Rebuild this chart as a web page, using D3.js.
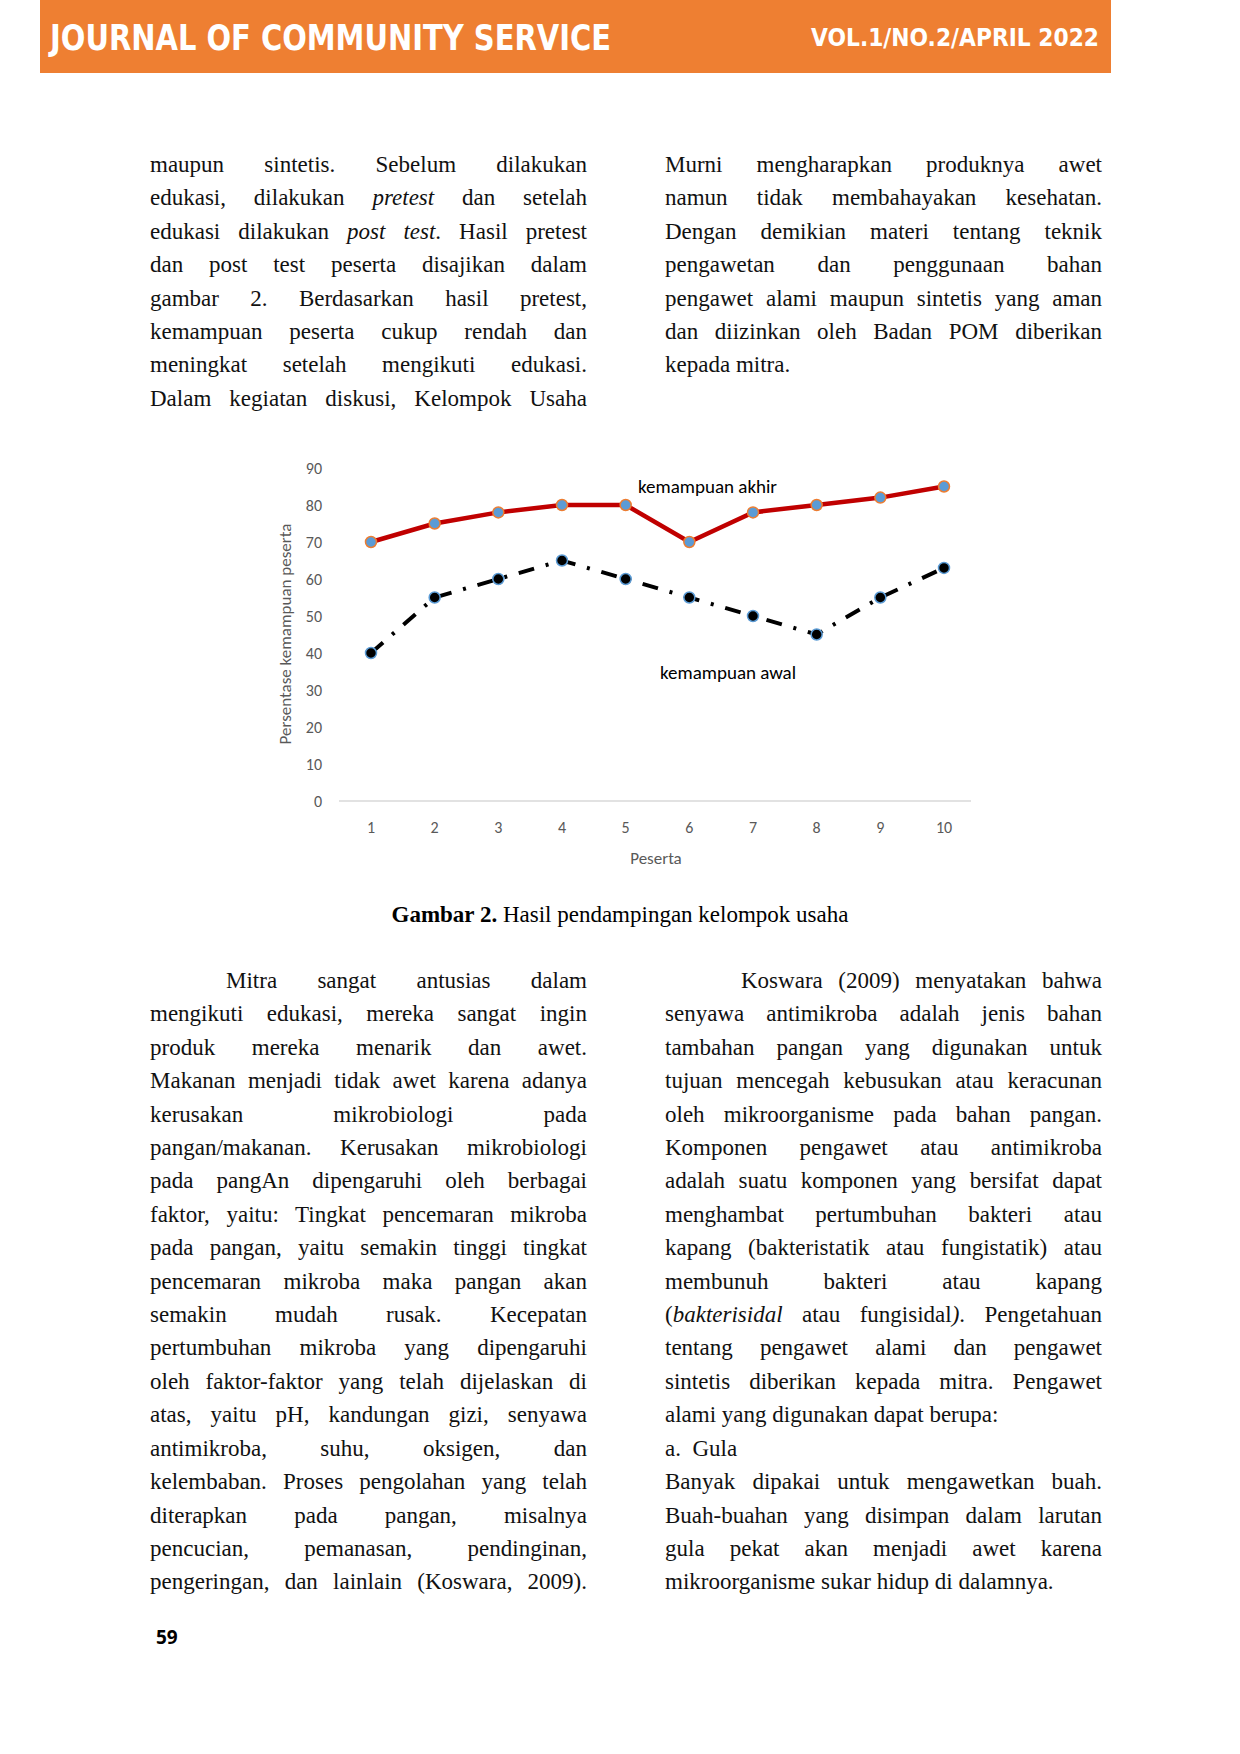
<!DOCTYPE html>
<html><head><meta charset="utf-8">
<script src="https://cdnjs.cloudflare.com/ajax/libs/d3/7.8.5/d3.min.js"></script>
<style>
body{margin:0;width:1240px;height:1754px;position:relative;background:#fff;font-family:"Liberation Serif","Times New Roman",serif;}
.col{position:absolute;width:437px;font-size:23px;line-height:33.4px;color:#111;}
.col div{text-align:justify;text-align-last:justify;white-space:nowrap;}
.col div.l{text-align-last:left;}
.col div.ind{padding-left:76px;}
svg{position:absolute;left:0;top:0;}
</style></head><body>
<div style="position:absolute;left:40px;top:0;width:1071px;height:73px;background:#ee7f32"></div>
<div class="col" id="c1" style="left:150px;top:148px"></div>
<div class="col" id="c2" style="left:665px;top:148px"></div>
<div class="col" id="c3" style="left:150px;top:964px"></div>
<div class="col" id="c4" style="left:665px;top:964px"></div>
<div style="position:absolute;left:0;width:1240px;top:902px;text-align:center;font-size:23px"><b>Gambar 2.</b> Hasil pendampingan kelompok usaha</div>
<div style="position:absolute;left:156px;top:1624px;font:bold 19px 'Open Sans',sans-serif">59</div>
<svg id="ch" width="1240" height="1754"></svg>
<script>
const peserta=[1,2,3,4,5,6,7,8,9,10];
const akhir=[70,75,78,80,80,70,78,80,82,85];
const awal=[40,55,60,65,60,55,50,45,55,63];
const yTicks=[0,10,20,30,40,50,60,70,80,90];

const t1=["maupun sintetis. Sebelum dilakukan","edukasi, dilakukan <i>pretest</i> dan setelah","edukasi dilakukan <i>post test</i>. Hasil pretest","dan post test peserta disajikan dalam","gambar 2. Berdasarkan hasil pretest,","kemampuan peserta cukup rendah dan","meningkat setelah mengikuti edukasi.","Dalam kegiatan diskusi, Kelompok Usaha"];
const t2=["Murni mengharapkan produknya awet","namun tidak membahayakan kesehatan.","Dengan demikian materi tentang teknik","pengawetan dan penggunaan bahan","pengawet alami maupun sintetis yang aman","dan diizinkan oleh Badan POM diberikan","!kepada mitra."];
const t3=[">Mitra sangat antusias dalam","mengikuti edukasi, mereka sangat ingin","produk mereka menarik dan awet.","Makanan menjadi tidak awet karena adanya","kerusakan mikrobiologi pada","pangan/makanan. Kerusakan mikrobiologi","pada pangAn dipengaruhi oleh berbagai","faktor, yaitu: Tingkat pencemaran mikroba","pada pangan, yaitu semakin tinggi tingkat","pencemaran mikroba maka pangan akan","semakin mudah rusak. Kecepatan","pertumbuhan mikroba yang dipengaruhi","oleh faktor-faktor yang telah dijelaskan di","atas, yaitu pH, kandungan gizi, senyawa","antimikroba, suhu, oksigen, dan","kelembaban. Proses pengolahan yang telah","diterapkan pada pangan, misalnya","pencucian, pemanasan, pendinginan,","pengeringan, dan lainlain (Koswara, 2009)."];
const t4=[">Koswara (2009) menyatakan bahwa","senyawa antimikroba adalah jenis bahan","tambahan pangan yang digunakan untuk","tujuan mencegah kebusukan atau keracunan","oleh mikroorganisme pada bahan pangan.","Komponen pengawet atau antimikroba","adalah suatu komponen yang bersifat dapat","menghambat pertumbuhan bakteri atau","kapang (bakteristatik atau fungistatik) atau","membunuh bakteri atau kapang","(<i>bakterisidal</i> atau fungisidal<i>)</i>. Pengetahuan","tentang pengawet alami dan pengawet","sintetis diberikan kepada mitra. Pengawet","!alami yang digunakan dapat berupa:","!a.&nbsp; Gula","Banyak dipakai untuk mengawetkan buah.","Buah-buahan yang disimpan dalam larutan","gula pekat akan menjadi awet karena","!mikroorganisme sukar hidup di dalamnya."];
[[t1,"#c1"],[t2,"#c2"],[t3,"#c3"],[t4,"#c4"]].forEach(([arr,id])=>{
  d3.select(id).selectAll("div").data(arr).join("div")
   .attr("class",d=>d[0]==="!"?"l":d[0]===">"?"ind":null)
   .html(d=>(d[0]==="!"||d[0]===">")?d.slice(1):d);
});

const svg=d3.select("#ch");
// header texts
svg.append("text").attr("x",50).attr("y",50).attr("textLength",561).attr("lengthAdjust","spacingAndGlyphs")
  .attr("font-family","'DejaVu Sans Condensed','DejaVu Sans',sans-serif").attr("font-weight","bold").attr("font-size",36).attr("fill","#fff").text("JOURNAL OF COMMUNITY SERVICE");
svg.append("text").attr("x",811).attr("y",46).attr("textLength",288).attr("lengthAdjust","spacingAndGlyphs")
  .attr("font-family","'DejaVu Sans Condensed','DejaVu Sans',sans-serif").attr("font-weight","bold").attr("font-size",24).attr("fill","#fff").text("VOL.1/NO.2/APRIL 2022");

const x=d3.scalePoint().domain(peserta).range([371,944]);
const y=d3.scaleLinear().domain([0,90]).range([801,468]);
const F="Calibri,Carlito,'Open Sans',sans-serif";
const g=svg.append("g").attr("font-family",F);
g.append("line").attr("x1",339).attr("x2",971).attr("y1",y(0)).attr("y2",y(0)).attr("stroke","#d9d9d9").attr("stroke-width",1.5);
g.selectAll(".yt").data(yTicks).join("text").attr("x",322).attr("y",d=>y(d)+6).attr("text-anchor","end").attr("font-size",16).attr("fill","#595959").text(d=>d);
g.selectAll(".xt").data(peserta).join("text").attr("x",d=>x(d)).attr("y",833).attr("text-anchor","middle").attr("font-size",16).attr("fill","#595959").text(d=>d);
g.append("text").attr("x",656).attr("y",864).attr("text-anchor","middle").attr("font-size",17).attr("fill","#595959").text("Peserta");
g.append("text").attr("transform","translate(291,634) rotate(-90)").attr("text-anchor","middle").attr("font-size",17).attr("fill","#595959").text("Persentase kemampuan peserta");
const line=d3.line().x((d,i)=>x(peserta[i])).y(d=>y(d));
svg.append("path").attr("d",line(awal)).attr("fill","none").attr("stroke","#000").attr("stroke-width",4).attr("stroke-dasharray","16,12,3,12");
svg.append("path").attr("d",line(akhir)).attr("fill","none").attr("stroke","#c00000").attr("stroke-width",4.5);
svg.selectAll(".ma").data(akhir).join("circle").attr("cx",(d,i)=>x(peserta[i])).attr("cy",d=>y(d)).attr("r",5.5).attr("fill","#5b9bd5").attr("stroke","#ed7d31").attr("stroke-width",1.5);
svg.selectAll(".mw").data(awal).join("circle").attr("cx",(d,i)=>x(peserta[i])).attr("cy",d=>y(d)).attr("r",5.5).attr("fill","#000").attr("stroke","#5b9bd5").attr("stroke-width",1.5);
svg.append("text").attr("x",638).attr("y",493).attr("font-family",F).attr("font-size",19).attr("fill","#000").text("kemampuan akhir");
svg.append("text").attr("x",660).attr("y",679).attr("font-family",F).attr("font-size",19).attr("fill","#000").text("kemampuan awal");
</script>
</body></html>
